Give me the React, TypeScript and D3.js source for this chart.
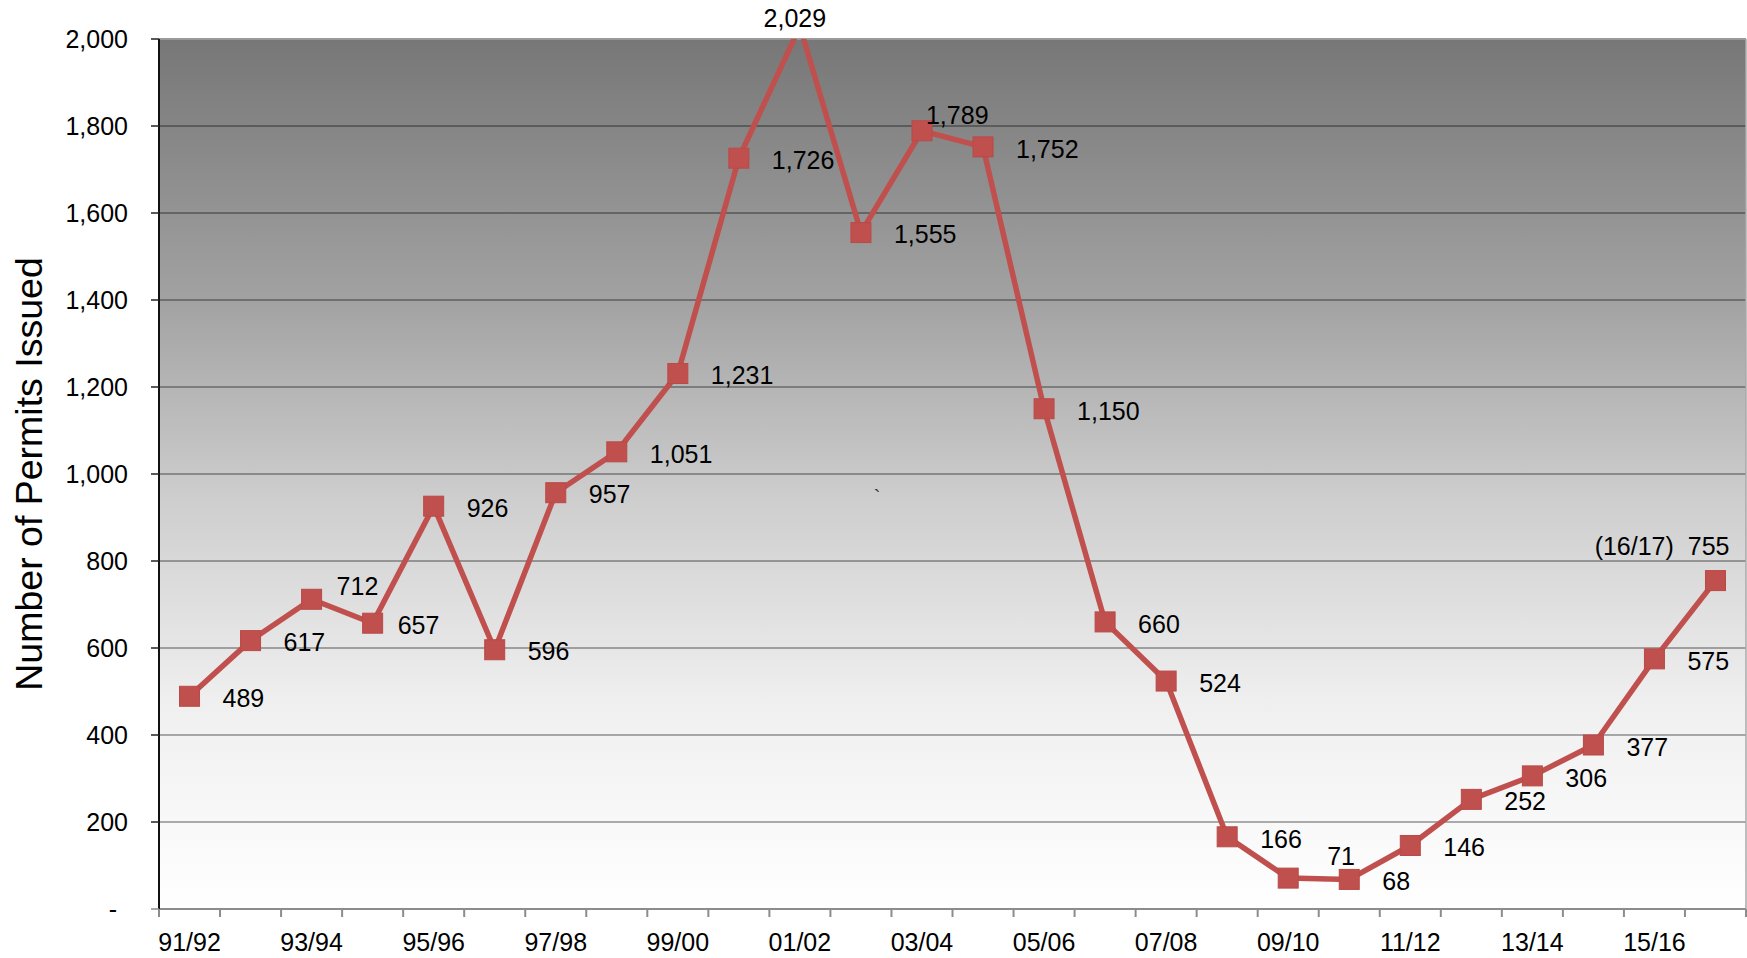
import React from 'react';
import * as d3 from 'd3';

const categories = ['91/92','92/93','93/94','94/95','95/96','96/97','97/98','98/99','99/00','00/01','01/02','02/03','03/04','04/05','05/06','06/07','07/08','08/09','09/10','10/11','11/12','12/13','13/14','14/15','15/16','16/17'];
const permits = [489,617,712,657,926,596,957,1051,1231,1726,2029,1555,1789,1752,1150,660,524,166,71,68,146,252,306,377,575,755];
const yTicks = [0,200,400,600,800,1000,1200,1400,1600,1800,2000];
const xTickLabels = categories.filter((_, i) => i % 2 === 0);
const yAxisTitle = 'Number of Permits Issued';
const lastLabelPrefix = '(16/17)\u00a0\u00a0';
const strayMark = '`';

const W = 1747, H = 958;
const M = { left: 159, right: 1746, top: 39, bottom: 909 };
const RED = '#c0504d';
const FONT = '"Liberation Sans", Arial, Helvetica, sans-serif';

type Place = { dx: number; dy: number; anchor: 'start' | 'middle' | 'end' };
const defaultPlace: Place = { dx: 33, dy: 2, anchor: 'start' };
const specialPlace: Record<number, Place> = {
  2: { dx: 25, dy: -13, anchor: 'start' },
  3: { dx: 25, dy: 2, anchor: 'start' },
  10: { dx: -5, dy: -8, anchor: 'middle' },
  12: { dx: 4, dy: -16, anchor: 'start' },
  18: { dx: 39, dy: -22, anchor: 'start' },
  25: { dx: 14, dy: -34, anchor: 'end' },
};

export default function App() {
  const x = d3.scaleBand<string>().domain(categories).range([M.left, M.right]).padding(0);
  const y = d3.scaleLinear().domain([0, 2000]).range([M.bottom, M.top]);
  const cx = (c: string) => (x(c) as number) + x.bandwidth() / 2;

  const line = d3.line<number>()
    .x((_, i) => cx(categories[i]))
    .y((d) => y(d));

  const fmt = d3.format(',');
  const boundaries = d3.range(categories.length + 1).map((i) => M.left + i * x.bandwidth());

  return (
    <svg width={W} height={H} style={{ position: 'absolute', left: 0, top: 0, background: '#fff' }} fontFamily={FONT}>
      <defs>
        <linearGradient id="bg" x1="0" y1="0" x2="0" y2="1">
          <stop offset="0" stopColor="#777777" />
          <stop offset="0.3" stopColor="#a2a2a2" />
          <stop offset="0.53" stopColor="#cecece" />
          <stop offset="0.76" stopColor="#efefef" />
          <stop offset="1" stopColor="#ffffff" />
        </linearGradient>
        <clipPath id="plot">
          <rect x={M.left} y={M.top} width={M.right - M.left} height={M.bottom - M.top} />
        </clipPath>
      </defs>

      <rect x={M.left} y={M.top} width={M.right - M.left} height={M.bottom - M.top} fill="url(#bg)" />

      {yTicks.filter((t) => t > 0 && t < 2000).map((t) => (
        <line key={t} x1={M.left} x2={M.right} y1={y(t)} y2={y(t)} stroke="#000" strokeOpacity={0.42} strokeWidth={1.5} />
      ))}
      <line x1={M.left} x2={M.right} y1={M.top} y2={M.top} stroke="#9a9a9a" strokeWidth={2} />
      <line x1={M.right} x2={M.right} y1={M.top} y2={M.bottom} stroke="#a8a8a8" strokeWidth={1.5} />

      {/* x axis */}
      <line x1={M.left} x2={M.right} y1={M.bottom} y2={M.bottom} stroke="#8c8c8c" strokeWidth={2} />
      {boundaries.map((b, i) => (
        <line key={i} x1={b} x2={b} y1={M.bottom} y2={M.bottom + 8} stroke="#8c8c8c" strokeWidth={2} />
      ))}
      {xTickLabels.map((c) => (
        <text key={c} x={cx(c)} y={942} dy="0.35em" textAnchor="middle" fontSize={25} fill="#000">{c}</text>
      ))}

      {/* y axis */}
      <line x1={M.left} x2={M.left} y1={M.top} y2={M.bottom} stroke="#111" strokeWidth={2} />
      {yTicks.map((t) => (
        <g key={t}>
          <line x1={M.left - 8} x2={M.left} y1={y(t)} y2={y(t)} stroke={t === 0 ? '#8c8c8c' : '#222'} strokeWidth={1.5} />
          <text x={t === 0 ? 117 : 128} y={y(t)} dy="0.35em" textAnchor="end" fontSize={25} fill="#000">
            {t === 0 ? '-' : fmt(t)}
          </text>
        </g>
      ))}
      <text transform={`translate(42, ${(M.top + M.bottom) / 2}) rotate(-90)`} textAnchor="middle" fontSize={37.5} fill="#000">
        {yAxisTitle}
      </text>

      <text x={877} y={497} dy="0.35em" textAnchor="middle" fontSize={20} fill="#333">{strayMark}</text>

      <g clipPath="url(#plot)">
        <path d={line(permits) || ''} fill="none" stroke={RED} strokeWidth={5.5} strokeLinejoin="round" />
        {permits.map((v, i) => (
          <rect key={i} x={cx(categories[i]) - 10} y={y(v) - 10} width={20} height={20} fill={RED} stroke="#b94a47" strokeWidth={1} />
        ))}
      </g>

      {permits.map((v, i) => {
        const p = specialPlace[i] || defaultPlace;
        const label = (i === permits.length - 1 ? lastLabelPrefix : '') + fmt(v);
        return (
          <text key={i} x={cx(categories[i]) + p.dx} y={y(v) + p.dy} dy="0.35em" textAnchor={p.anchor} fontSize={25} fill="#000">
            {label}
          </text>
        );
      })}
    </svg>
  );
}
